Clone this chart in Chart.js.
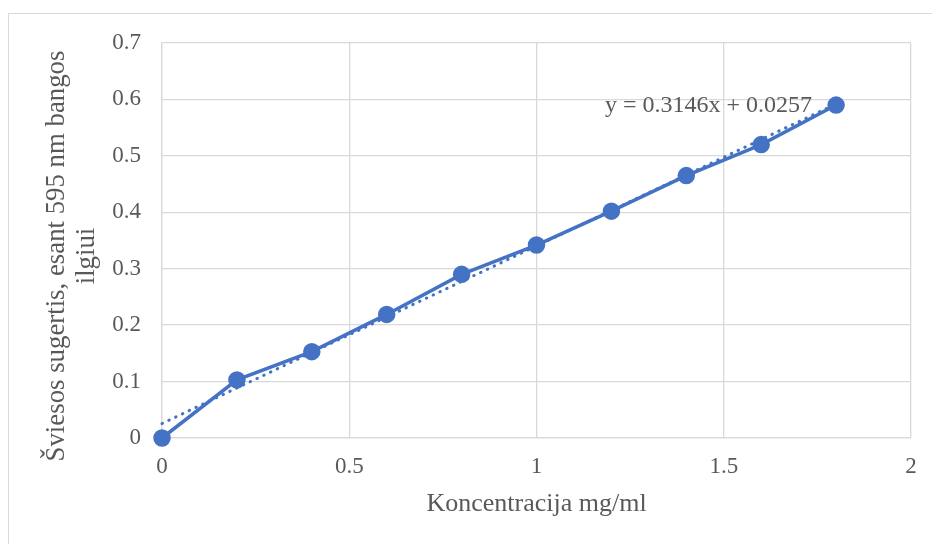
<!DOCTYPE html>
<html>
<head>
<meta charset="utf-8">
<script src="https://cdn.jsdelivr.net/npm/chart.js@4.4.1/dist/chart.umd.min.js"></script>
<style>
    html, body { margin: 0; padding: 0; background: #fff; overflow: hidden; }
    #frame { position: absolute; left: 8px; top: 13px; width: 1000px; height: 1000px; border: 1px solid #d9d9d9; }
    #wrap { position: absolute; left: 0; top: 0; width: 932px; height: 544px; }
</style>
</head>
<body>
<div id="frame"></div>
<div id="wrap"><canvas id="chart" width="932" height="544"></canvas></div>
<script>
// Koncentracija (mg/ml) ir šviesos sugertis
const concentrations = [0, 0.2, 0.4, 0.6, 0.8, 1.0, 1.2, 1.4, 1.6, 1.8];
const absorbance = [0, 0.103, 0.153, 0.219, 0.290, 0.342, 0.402, 0.465, 0.520, 0.590];

// Tiesinė tendencijos linija: y = 0.3146x + 0.0257
const trendX = [0, 1.8];
const trendY = [0.0257, 0.5920];
const trendLabel = 'y = 0.3146x + 0.0257';

const xTitle = 'Koncentracija mg/ml';
const yTitle = ['Šviesos sugertis, esant 595 nm bangos', 'ilgiui'];

const blue = '#4472C4';
const grey = '#595959';
const serif = "'Liberation Serif', 'Times New Roman', serif";

// lygties tekstas šalia paskutinio taško
const equationPlugin = {
    id: 'equation',
    afterDatasetsDraw(chart) {
        const { ctx, scales } = chart;
        const px = scales.x.getPixelForValue(trendX[1]);
        const py = scales.y.getPixelForValue(absorbance[absorbance.length - 1]);
        ctx.save();
        ctx.font = '24px ' + serif;
        ctx.fillStyle = grey;
        ctx.textAlign = 'right';
        ctx.textBaseline = 'middle';
        ctx.fillText(trendLabel, px - 24, py + 1);
        ctx.restore();
    }
};

// Y ašies pavadinimas dviem eilutėmis
const yTitlePlugin = {
    id: 'yTitle',
    afterDraw(chart) {
        const { ctx } = chart;
        ctx.save();
        ctx.font = '26.8px ' + serif;
        ctx.fillStyle = grey;
        ctx.textAlign = 'center';
        ctx.textBaseline = 'middle';
        ctx.translate(57, 256);
        ctx.rotate(-Math.PI / 2);
        yTitle.forEach((line, i) => ctx.fillText(line, 0, i * 30));
        ctx.restore();
    }
};

new Chart(document.getElementById('chart'), {
    type: 'scatter',
    data: {
        datasets: [{
            label: 'Sugertis',
            data: concentrations.map((c, i) => ({ x: c, y: absorbance[i] })),
            showLine: true,
            borderColor: blue,
            backgroundColor: blue,
            borderWidth: 3.5,
            pointRadius: 7,
            pointHoverRadius: 7,
            clip: false,
            order: 2
        }, {
            label: 'Tendencija',
            data: trendX.map((c, i) => ({ x: c, y: trendY[i] })),
            showLine: true,
            borderColor: blue,
            borderWidth: 3,
            borderDash: [0.5, 7],
            borderCapStyle: 'round',
            pointRadius: 0,
            clip: false,
            order: 1
        }]
    },
    options: {
        responsive: false,
        animation: false,
        layout: { padding: { top: 43, right: 21, bottom: 0, left: 0 } },
        plugins: {
            legend: { display: false },
            tooltip: { enabled: false }
        },
        scales: {
            x: {
                type: 'linear',
                min: 0,
                max: 2,
                afterFit(scale) { scale.height = 106; },
                ticks: {
                    stepSize: 0.5,
                    color: grey,
                    padding: 15,
                    font: { family: serif, size: 23 },
                    callback: v => String(v)
                },
                grid: { color: '#d9d9d9', lineWidth: 1.3, drawTicks: false },
                border: { color: '#d9d9d9', width: 1.3 },
                title: {
                    display: true,
                    text: xTitle,
                    color: grey,
                    padding: { top: 0, bottom: 24 },
                    font: { family: serif, size: 26 }
                }
            },
            y: {
                min: 0,
                max: 0.7,
                afterFit(scale) { scale.width = 162; },
                ticks: {
                    stepSize: 0.1,
                    color: grey,
                    padding: 21,
                    font: { family: serif, size: 23 },
                    callback: v => String(Math.round(v * 10) / 10)
                },
                grid: { color: '#d9d9d9', lineWidth: 1.3, drawTicks: false },
                border: { color: '#d9d9d9', width: 1.3 }
            }
        }
    },
    plugins: [equationPlugin, yTitlePlugin]
});
</script>
</body>
</html>
